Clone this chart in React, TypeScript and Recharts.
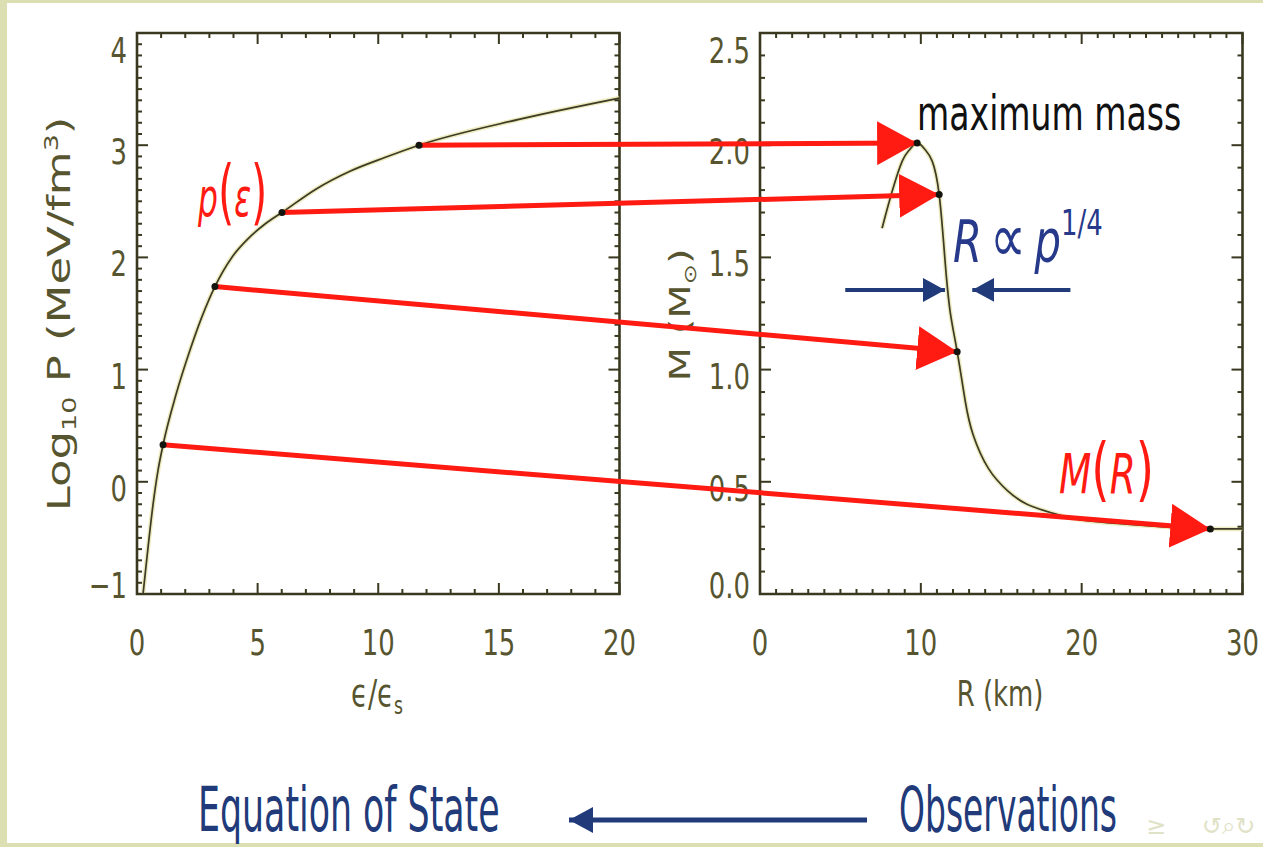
import React from 'react';
import { ComposedChart, Line, XAxis, YAxis, ReferenceArea, Label } from 'recharts';

// ---- data ----

// left panel: equation of state, log10 p against eps / eps_s
const eosEps = [0.25, 0.46, 0.66, 0.87, 1.08, 1.62, 2.16, 2.69, 3.23, 3.93, 4.62, 5.32, 6.01, 7.43, 8.85, 10.27, 11.69, 15.83, 20.0];
const eosLogP = [-1.0, -0.58, -0.21, 0.1, 0.33, 0.78, 1.15, 1.47, 1.74, 2.0, 2.17, 2.3, 2.4, 2.61, 2.77, 2.89, 3.0, 3.23, 3.42];

// right panel: mass-radius curve
const mrRadius = [7.59, 8.2, 8.85, 9.3, 9.77, 10.27, 10.7, 11.14, 11.5, 11.82, 12.26, 12.76, 13.25, 14.2, 15.4, 16.6, 18.2, 20.0, 23.0, 26.0, 28.0, 30.0];
const mrMass = [1.63, 1.79, 1.93, 1.98, 2.01, 1.98, 1.93, 1.78, 1.49, 1.26, 1.08, 0.86, 0.71, 0.56, 0.46, 0.4, 0.36, 0.33, 0.31, 0.295, 0.29, 0.29];

// marked points joined by the red arrows (EoS point -> star it makes)
const markEps = [1.08, 3.23, 6.01, 11.69];
const markLogP = [0.33, 1.74, 2.4, 3.0];
const markRadius = [28.0, 12.26, 11.14, 9.77];
const markMass = [0.29, 1.08, 1.78, 2.01];

// blue "squeeze" arrows on the radius
const squeezeFrom = [5.3, 19.3];
const squeezeTo = [11.5, 13.2];
const squeezeMass = 1.355;

// axis ticks
const epsTicks = [0, 5, 10, 15, 20];
const logPTicks = [-1, 0, 1, 2, 3, 4];
const radiusTicks = [0, 10, 20, 30];
const massTicks = [0.0, 0.5, 1.0, 1.5, 2.0, 2.5];

// ---- layout / style ----
const W = 1263;
const H = 847;
const PLOT_TOP = 33;
const PLOT_BOTTOM = 594;
const LEFT_X0 = 137;
const LEFT_X1 = 619.5;
const RIGHT_X0 = 760;
const RIGHT_X1 = 1242.5;
const AXIS_W = 120;
const AXIS_H = 120;
const SQ = 0.72; // the slide is squeezed horizontally

const FRAME = '#3a3920';
const CURVE = '#3c3b26';
const LABEL = '#57552f';
const RED = '#ff1a12';
const NAVY = '#27398a';
const NAVY_DARK = '#213a79';
const BORDER = '#dbdfb2';
const FONT = '"DejaVu Sans", sans-serif';

const EPS_MAX = epsTicks[epsTicks.length - 1];
const LOGP_MIN = logPTicks[0];
const LOGP_MAX = logPTicks[logPTicks.length - 1];
const R_MAX = radiusTicks[radiusTicks.length - 1];
const M_MAX = massTicks[massTicks.length - 1];

const steps = (lo: number, hi: number, step: number) => {
  const out: number[] = [];
  const n = Math.round((hi - lo) / step);
  for (let i = 0; i <= n; i++) out.push(+(lo + i * step).toFixed(4));
  return out;
};

// the arrows cross both panels, so the overlay works in eps/logP units
const rToEps = (r: number) =>
  ((RIGHT_X0 + (r / R_MAX) * (RIGHT_X1 - RIGHT_X0) - LEFT_X0) / (LEFT_X1 - LEFT_X0)) * EPS_MAX;
const mToLogP = (m: number) => LOGP_MIN + (m / M_MAX) * (LOGP_MAX - LOGP_MIN);

const eosData = eosEps.map((x, i) => ({ x, y: eosLogP[i] }));
const mrData = mrRadius.map((x, i) => ({ x, y: mrMass[i] }));
const arrowData = markEps.map((e, i) => [
  { x: e, y: markLogP[i] },
  { x: rToEps(markRadius[i]), y: mToLogP(markMass[i]) },
]);
const squeezeData = squeezeFrom.map((r, i) => [
  { x: r, y: squeezeMass },
  { x: squeezeTo[i], y: squeezeMass },
]);

type TickProps = { x: number; y: number; payload: { value: number } };
const near = (a: number, b: number) => Math.abs(a - b) < 1e-6;
const isMajor = (v: number, majors: number[]) => majors.some((m) => near(m, v));

const makeXTick = (majors: number[], fmt: (v: number) => string) => (p: TickProps) => {
  const v = p.payload.value;
  const major = isMajor(v, majors);
  const len = major ? 11 : 5;
  return (
    <g>
      <line x1={p.x} x2={p.x} y1={PLOT_BOTTOM} y2={PLOT_BOTTOM - len} stroke={FRAME} strokeWidth={2} />
      <line x1={p.x} x2={p.x} y1={PLOT_TOP} y2={PLOT_TOP + len} stroke={FRAME} strokeWidth={2} />
      {major && (
        <text
          transform={`translate(${p.x},${PLOT_BOTTOM + 61}) scale(${SQ},1)`}
          textAnchor="middle"
          fontSize={36}
          fontFamily={FONT}
          fill={LABEL}
        >
          {fmt(v)}
        </text>
      )}
    </g>
  );
};

const makeYTick =
  (x0: number, x1: number, majors: number[], fmt: (v: number) => string) => (p: TickProps) => {
    const v = p.payload.value;
    const major = isMajor(v, majors);
    const len = major ? 11 : 5;
    const lo = majors[0];
    const hi = majors[majors.length - 1];
    const off = near(v, hi) ? 30 : near(v, lo) ? 4 : 19;
    return (
      <g>
        <line x1={x0} x2={x0 + len} y1={p.y} y2={p.y} stroke={FRAME} strokeWidth={2} />
        <line x1={x1} x2={x1 - len} y1={p.y} y2={p.y} stroke={FRAME} strokeWidth={2} />
        {major && (
          <text
            transform={`translate(${x0 - 10},${p.y + off}) scale(${SQ},1)`}
            textAnchor="end"
            fontSize={36}
            fontFamily={FONT}
            fill={LABEL}
          >
            {fmt(v)}
          </text>
        )}
      </g>
    );
  };

const epsTick = makeXTick(epsTicks, (v) => String(v));
const radiusTick = makeXTick(radiusTicks, (v) => String(v));
const logPTick = makeYTick(LEFT_X0, LEFT_X1, logPTicks, (v) => (v < 0 ? `\u2212${Math.abs(v)}` : String(v)));
const massTick = makeYTick(RIGHT_X0, RIGHT_X1, massTicks, (v) => v.toFixed(1));

const abs: React.CSSProperties = { position: 'absolute', left: 0, top: 0 };

const EosPanel = () => (
  <ComposedChart
    width={W}
    height={H}
    margin={{ top: PLOT_TOP, right: W - LEFT_X1, bottom: H - PLOT_BOTTOM - AXIS_H, left: LEFT_X0 - AXIS_W }}
  >
    <XAxis
      type="number"
      dataKey="x"
      domain={[0, EPS_MAX]}
      ticks={steps(0, EPS_MAX, 1)}
      interval={0}
      tick={epsTick}
      tickLine={false}
      axisLine={false}
      tickSize={0}
      tickMargin={0}
      height={AXIS_H}
      allowDataOverflow
    >
      <Label
        content={() => (
          <text
            transform={`translate(377,706) scale(${SQ},1)`}
            textAnchor="middle"
            fontSize={38}
            fontFamily={FONT}
            fill={LABEL}
          >
            {'\u03f5/\u03f5'}
            <tspan fontSize={24} dy={8}>s</tspan>
          </text>
        )}
      />
    </XAxis>
    <YAxis
      type="number"
      dataKey="y"
      domain={[LOGP_MIN, LOGP_MAX]}
      ticks={steps(LOGP_MIN, LOGP_MAX, 0.1)}
      interval={0}
      tick={logPTick}
      tickLine={false}
      axisLine={false}
      tickSize={0}
      tickMargin={0}
      width={AXIS_W}
      allowDataOverflow
    >
      <Label
        content={() => (
          <text
            transform={`translate(70,314) rotate(-90) scale(1,${SQ})`}
            textAnchor="middle"
            fontSize={45}
            fontFamily={FONT}
            fill={LABEL}
          >
            Log
            <tspan fontSize={27} dy={8}>10</tspan>
            <tspan dy={-8}> P (MeV/fm</tspan>
            <tspan fontSize={27} dy={-17}>3</tspan>
            <tspan dy={17}>)</tspan>
          </text>
        )}
      />
    </YAxis>
    <ReferenceArea x1={0} x2={EPS_MAX} y1={LOGP_MIN} y2={LOGP_MAX} fill="none" stroke={FRAME} strokeWidth={2.6} />
    <Line data={eosData} dataKey="y" type="monotone" stroke="#e6e3a4" strokeWidth={4.5} strokeOpacity={0.7} dot={false} isAnimationActive={false} />
    <Line data={eosData} dataKey="y" type="monotone" stroke={CURVE} strokeWidth={1.7} dot={false} isAnimationActive={false} />
  </ComposedChart>
);

const MassRadiusPanel = () => (
  <ComposedChart
    width={W}
    height={H}
    margin={{ top: PLOT_TOP, right: W - RIGHT_X1, bottom: H - PLOT_BOTTOM - AXIS_H, left: RIGHT_X0 - AXIS_W }}
  >
    <XAxis
      type="number"
      dataKey="x"
      domain={[0, R_MAX]}
      ticks={steps(0, R_MAX, 1)}
      interval={0}
      tick={radiusTick}
      tickLine={false}
      axisLine={false}
      tickSize={0}
      tickMargin={0}
      height={AXIS_H}
      allowDataOverflow
    >
      <Label
        content={() => (
          <text
            transform={`translate(1000,706) scale(${SQ},1)`}
            textAnchor="middle"
            fontSize={36}
            fontFamily={FONT}
            fill={LABEL}
          >
            R (km)
          </text>
        )}
      />
    </XAxis>
    <YAxis
      type="number"
      dataKey="y"
      domain={[0, M_MAX]}
      ticks={steps(0, M_MAX, 0.1)}
      interval={0}
      tick={massTick}
      tickLine={false}
      axisLine={false}
      tickSize={0}
      tickMargin={0}
      width={AXIS_W}
      allowDataOverflow
    >
      <Label
        content={() => (
          <text
            transform={`translate(690,315) rotate(-90) scale(1,${SQ})`}
            textAnchor="middle"
            fontSize={40}
            fontFamily={FONT}
            fill={LABEL}
          >
            M (M
            <tspan fontSize={24} dy={8}>{'\u2299'}</tspan>
            <tspan dy={-8}>)</tspan>
          </text>
        )}
      />
    </YAxis>
    <ReferenceArea x1={0} x2={R_MAX} y1={0} y2={M_MAX} fill="none" stroke={FRAME} strokeWidth={2.6} />
    <Line data={mrData} dataKey="y" type="natural" stroke="#e6e3a4" strokeWidth={4.5} strokeOpacity={0.7} dot={false} isAnimationActive={false} />
    <Line data={mrData} dataKey="y" type="natural" stroke={CURVE} strokeWidth={1.7} dot={false} isAnimationActive={false} />
    {squeezeData.map((d, i) => (
      <Line
        key={`sq-${i}`}
        data={d}
        dataKey="y"
        type="linear"
        stroke={NAVY_DARK}
        strokeWidth={4}
        markerEnd="url(#blueHead)"
        dot={false}
        isAnimationActive={false}
      />
    ))}
  </ComposedChart>
);

const ArrowOverlay = () => (
  <ComposedChart
    width={W}
    height={H}
    margin={{ top: PLOT_TOP, right: W - RIGHT_X1, bottom: H - PLOT_BOTTOM, left: LEFT_X0 }}
  >
    <XAxis type="number" dataKey="x" domain={[0, rToEps(R_MAX)]} hide />
    <YAxis type="number" dataKey="y" domain={[LOGP_MIN, LOGP_MAX]} hide />
    {arrowData.map((d, i) => (
      <Line
        key={`ar-${i}`}
        data={d}
        dataKey="y"
        type="linear"
        stroke={RED}
        strokeWidth={5}
        markerEnd="url(#redHead)"
        dot={{ r: 3.5, fill: '#151510', stroke: 'none', strokeWidth: 0 }}
        isAnimationActive={false}
      />
    ))}
  </ComposedChart>
);

export default function App() {
  return (
    <div style={{ ...abs, width: W, height: H, background: BORDER, overflow: 'hidden', fontFamily: FONT }}>
      <div style={{ position: 'absolute', left: 7, top: 3, width: W - 7, height: H - 7, background: '#ffffff' }} />
      <svg width={0} height={0} style={{ position: 'absolute' }}>
        <defs>
          <marker id="redHead" viewBox="0 0 40 44" refX={40} refY={22} markerWidth={40} markerHeight={44} markerUnits="userSpaceOnUse" orient="auto">
            <path d="M0,0 L40,22 L0,44 Z" fill={RED} />
          </marker>
          <marker id="blueHead" viewBox="0 0 22 24" refX={22} refY={12} markerWidth={22} markerHeight={24} markerUnits="userSpaceOnUse" orient="auto">
            <path d="M0,0 L22,12 L0,24 Z" fill={NAVY_DARK} />
          </marker>
          <marker id="navyHead" viewBox="0 0 24 26" refX={24} refY={13} markerWidth={24} markerHeight={26} markerUnits="userSpaceOnUse" orient="auto">
            <path d="M0,0 L24,13 L0,26 Z" fill={NAVY_DARK} />
          </marker>
        </defs>
      </svg>
      <div style={abs}>
        <EosPanel />
      </div>
      <div style={abs}>
        <MassRadiusPanel />
      </div>
      <div style={abs}>
        <ArrowOverlay />
      </div>
      <svg width={W} height={H} style={{ ...abs, pointerEvents: 'none' }} fontFamily={FONT}>
        <text transform="translate(198,216) scale(0.58,1)" fill={RED} fontSize={54} fontStyle="italic">
          p<tspan fontSize={72} fontStyle="normal">(</tspan>
          {'\u03b5'}
          <tspan fontSize={72} fontStyle="normal">)</tspan>
        </text>
        <text transform="translate(917,130) scale(0.69,1)" fill="#111111" fontSize={48}>
          maximum mass
        </text>
        <text transform={`translate(953,262) scale(${SQ},1)`} fill={NAVY} fontSize={58}>
          <tspan fontStyle="italic">R</tspan>
          <tspan fontSize={70} dx={11}>{'\u221d'}</tspan>
          <tspan fontStyle="italic" dx={12}>p</tspan>
          <tspan fontSize={36} dy={-27}>1/4</tspan>
        </text>
        <text transform="translate(1059,493) scale(0.67,1)" fill={RED} fontSize={56} fontStyle="italic">
          M<tspan fontSize={70} fontStyle="normal">(</tspan>R<tspan fontSize={70} fontStyle="normal">)</tspan>
        </text>
        <text transform="translate(198,831) scale(0.561,1)" fill={NAVY_DARK} fontSize={62}>
          Equation of State
        </text>
        <line x1={867} y1={820} x2={569} y2={820} stroke={NAVY_DARK} strokeWidth={5} markerEnd="url(#navyHead)" />
        <text transform="translate(899,831) scale(0.532,1)" fill={NAVY_DARK} fontSize={62}>
          Observations
        </text>
        <text x={1146} y={834} fill="#dfe2c6" fontSize={24}>
          {'\u2265'}
          <tspan dx={36}>{'\u21ba\u2315\u21bb'}</tspan>
        </text>
      </svg>
    </div>
  );
}
